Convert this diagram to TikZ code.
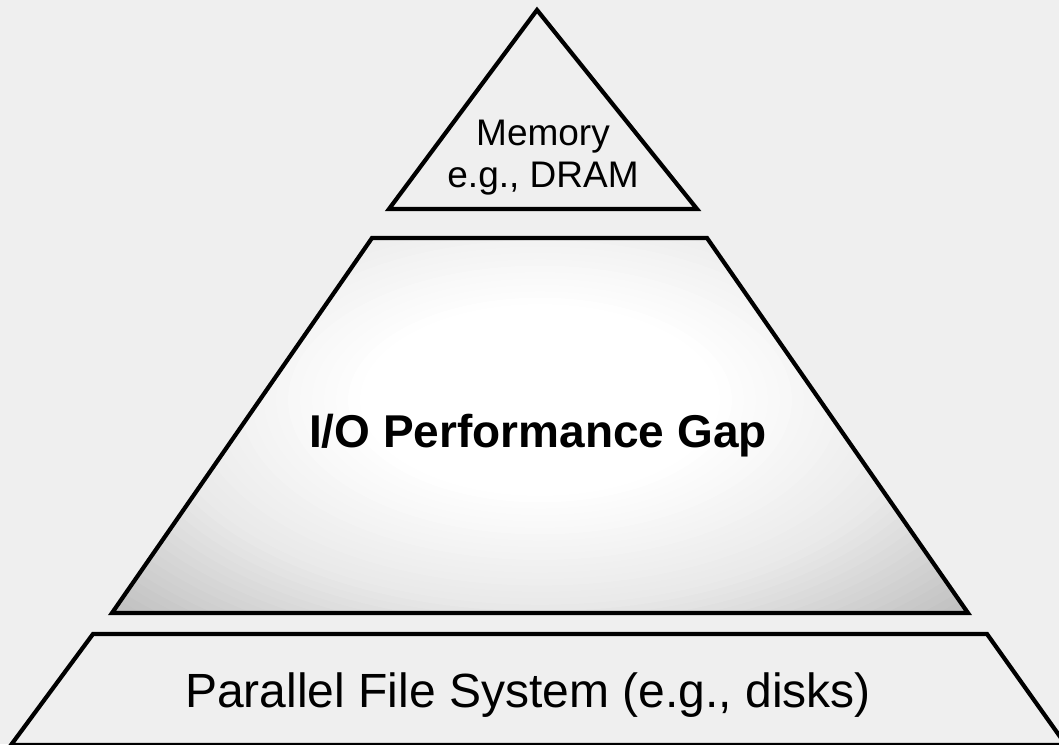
\documentclass[tikz,border=0pt]{standalone}
\usepackage{fontspec}
\setmainfont{Liberation Sans}
\definecolor{bg}{RGB}{239,239,239}
\tikzset{
  layer/.style={draw=black, line width=4.2pt, line join=miter},
  lbl/.style={anchor=base, inner sep=0pt, text=black}
}
\begin{document}
\begin{tikzpicture}[x=1pt,y=-1pt]
\fill[bg] (0,0) rectangle (1059,744);
\useasboundingbox (0,0) rectangle (1059,744);
\clip (0,0) rectangle (1059,744);
% top triangle: memory
\draw[layer, fill=bg] (537,10) -- (697,209) -- (389,209) -- cycle;
\node[lbl, font=\fontsize{37}{44}\selectfont] (mem1) at (543,145) {Memory};
\node[lbl, font=\fontsize{37}{44}\selectfont] (mem2) at (543,187) {e.g., DRAM};
% middle trapezoid: gap, with a radial gradient
\begin{scope}
  \clip (372,238) -- (707,238) -- (968,613) -- (112,613) -- cycle;
  \fill[gray!52] (100,230) rectangle (980,620);
  \foreach \i in {60,...,1}{
    \pgfmathsetmacro{\tv}{\i/50}
    \pgfmathsetmacro{\pv}{\tv<0.3 ? 0 : (\tv<0.65 ? 17*(\tv-0.3)/0.35 : min(52,17+35*(\tv-0.65)/0.35))}
    \fill[gray!\pv] (540,400) ellipse [x radius=600*\tv, y radius=320*\tv];
  }
\end{scope}
\draw[layer] (372,238) -- (707,238) -- (968,613) -- (112,613) -- cycle;
\node[lbl, font=\fontsize{46}{55}\bfseries] (gap) at (538,447) {I/O Performance Gap};
% bottom trapezoid: parallel file system
\draw[layer, fill=bg] (93,634) -- (987,634) -- (1066,745) -- (11,745) -- cycle;
\node[lbl, font=\fontsize{48}{57}\selectfont] (pfs) at (528,707) {Parallel File System (e.g., disks)};
\end{tikzpicture}
\end{document}
